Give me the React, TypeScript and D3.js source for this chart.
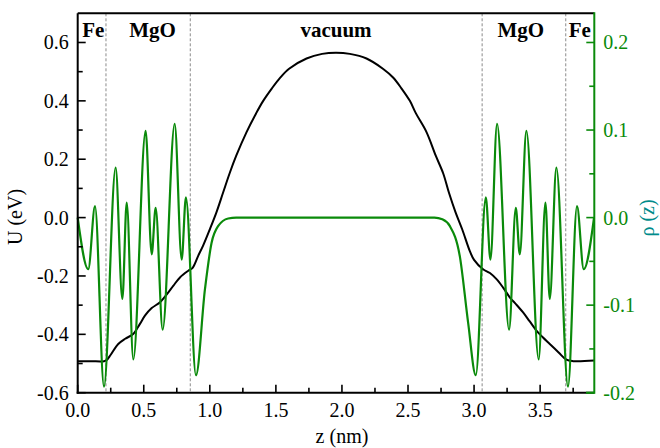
import React from "react";
import * as d3 from "d3";

// ---- data ----
const uZ = [0.0, 0.1, 0.2, 0.22, 0.25, 0.307, 0.36, 0.42, 0.47, 0.509, 0.56, 0.623, 0.68, 0.723, 0.774, 0.837, 0.87, 0.912, 0.95, 1.0, 1.05, 1.1, 1.15, 1.2, 1.278, 1.35, 1.404, 1.47, 1.53, 1.6, 1.732, 1.85, 1.955, 2.06, 2.186, 2.31, 2.387, 2.45, 2.514, 2.56, 2.64, 2.71, 2.766, 2.81, 2.86, 2.91, 2.968, 3.0, 3.068, 3.12, 3.17, 3.22, 3.27, 3.32, 3.371, 3.42, 3.472, 3.52, 3.573, 3.64, 3.699, 3.75, 3.91];
const uVal = [-0.492, -0.492, -0.492, -0.488, -0.47, -0.433, -0.415, -0.399, -0.365, -0.336, -0.31, -0.29, -0.26, -0.234, -0.205, -0.182, -0.172, -0.131, -0.095, -0.04, 0.018, 0.085, 0.152, 0.212, 0.293, 0.357, 0.4, 0.443, 0.478, 0.51, 0.545, 0.561, 0.565, 0.561, 0.545, 0.51, 0.48, 0.443, 0.4, 0.357, 0.293, 0.212, 0.152, 0.085, 0.018, -0.04, -0.115, -0.145, -0.177, -0.19, -0.211, -0.24, -0.273, -0.298, -0.325, -0.355, -0.387, -0.41, -0.433, -0.462, -0.487, -0.492, -0.49];

const rhoZ = [0.0, 0.08, 0.131, 0.199, 0.287, 0.338, 0.371, 0.421, 0.514, 0.56, 0.59, 0.643, 0.734, 0.787, 0.819, 0.895, 0.963, 1.013, 1.064, 1.139, 1.2, 2.7, 2.76, 2.816, 2.892, 2.955, 3.013, 3.089, 3.124, 3.174, 3.265, 3.316, 3.346, 3.396, 3.489, 3.54, 3.573, 3.623, 3.711, 3.779, 3.83, 3.908];
const rhoVal = [0.0, -0.059, 0.013, -0.193, 0.057, -0.093, 0.017, -0.162, 0.099, -0.042, 0.011, -0.128, 0.107, -0.048, 0.023, -0.18, -0.082, -0.029, -0.0095, -0.001, 0.0, 0.0, -0.002, -0.0095, -0.044, -0.12, -0.18, 0.023, -0.048, 0.107, -0.128, 0.011, -0.042, 0.099, -0.162, 0.017, -0.093, 0.057, -0.193, 0.013, -0.059, 0.0];

const boundaries = [0.214, 0.852, 3.061, 3.694];
const regionLabels = ["Fe", "MgO", "vacuum", "MgO", "Fe"];
const regionZ = [0.118, 0.566, 1.955, 3.353, 3.8];

const xTicks = [0.0, 0.5, 1.0, 1.5, 2.0, 2.5, 3.0, 3.5];
const xMinor = [0.25, 0.75, 1.25, 1.75, 2.25, 2.75, 3.25, 3.75];
const yLTicks = [-0.6, -0.4, -0.2, 0.0, 0.2, 0.4, 0.6];
const yLMinor = [-0.5, -0.3, -0.1, 0.1, 0.3, 0.5];
const yRTicks = [-0.2, -0.1, 0.0, 0.1, 0.2];
const yRMinor = [-0.15, -0.05, 0.05, 0.15];

const W = 660, H = 448;
const L = 77.7, R = 594.3, T = 13.3, B = 392.7;
const GREEN = "#0a8a0a";
const FONT = "'Liberation Serif', 'Times New Roman', serif";

export default function App() {
  const x = d3.scaleLinear().domain([0, 3.91]).range([L, R]);
  const yL = d3.scaleLinear().domain([-0.6, 0.7]).range([B, T]);
  const yR = d3.scaleLinear().domain([-0.2, 0.7 / 3]).range([B, T]);

  const uLine = d3.line<number>().x((_, i) => x(uZ[i])).y((_, i) => yL(uVal[i])).curve(d3.curveCatmullRom.alpha(0.5));
  const rLine = d3.line<number>().x((_, i) => x(rhoZ[i])).y((_, i) => yR(rhoVal[i])).curve(d3.curveMonotoneX);

  const fmt = (v: number) => (v < 0 ? "-" : "") + Math.abs(v).toFixed(1);

  return (
    <svg width={W} height={H} style={{ position: "absolute", left: 0, top: 0, background: "#fff" }} fontFamily={FONT}>
      {/* boundaries */}
      {boundaries.map((b, i) => (
        <line key={"b" + i} x1={x(b)} x2={x(b)} y1={T} y2={B} stroke="#8a8a8a" strokeWidth={1} strokeDasharray="3,2" />
      ))}
      {/* curves */}
      <path d={uLine(uZ) || ""} fill="none" stroke="#000" strokeWidth={2} />
      <path d={rLine(rhoZ) || ""} fill="none" stroke={GREEN} strokeWidth={2.2} />

      {/* frame */}
      <line x1={L} x2={R} y1={T} y2={T} stroke="#000" strokeWidth={2} />
      <line x1={L} x2={L} y1={T} y2={B + 1} stroke="#000" strokeWidth={2} />
      <line x1={L - 1} x2={R} y1={B} y2={B} stroke="#000" strokeWidth={2} />
      <line x1={586} x2={R} y1={B} y2={B} stroke={GREEN} strokeWidth={2} />
      <line x1={R} x2={R} y1={T - 1} y2={B + 1} stroke={GREEN} strokeWidth={2} />

      {/* x ticks */}
      {xTicks.map((t) => (
        <g key={"xt" + t}>
          <line x1={x(t)} x2={x(t)} y1={B} y2={B - 8} stroke="#000" strokeWidth={1.6} />
          <text x={x(t)} y={B + 24} fontSize={20} textAnchor="middle" fill="#000">{t.toFixed(1)}</text>
        </g>
      ))}
      {xMinor.map((t) => (
        <line key={"xm" + t} x1={x(t)} x2={x(t)} y1={B} y2={B - 5} stroke="#000" strokeWidth={1.6} />
      ))}

      {/* left ticks */}
      {yLTicks.map((t) => (
        <g key={"yl" + t}>
          <line x1={L} x2={L + 8} y1={yL(t)} y2={yL(t)} stroke="#000" strokeWidth={1.6} />
          <text x={L - 9} y={yL(t)} dy="0.35em" fontSize={20} textAnchor="end" fill="#000">{fmt(t)}</text>
        </g>
      ))}
      {yLMinor.map((t) => (
        <line key={"ylm" + t} x1={L} x2={L + 5} y1={yL(t)} y2={yL(t)} stroke="#000" strokeWidth={1.6} />
      ))}

      {/* right ticks */}
      {yRTicks.map((t) => (
        <g key={"yr" + t}>
          <line x1={R} x2={R - 8} y1={yR(t)} y2={yR(t)} stroke={GREEN} strokeWidth={1.6} />
          <text x={R + 9} y={yR(t)} dy="0.35em" fontSize={20} textAnchor="start" fill={GREEN}>{fmt(t)}</text>
        </g>
      ))}
      {yRMinor.map((t) => (
        <line key={"yrm" + t} x1={R} x2={R - 5} y1={yR(t)} y2={yR(t)} stroke={GREEN} strokeWidth={1.6} />
      ))}

      {/* region labels */}
      {regionLabels.map((lab, i) => (
        <text key={"r" + i} x={x(regionZ[i])} y={37} fontSize={21} fontWeight="bold" textAnchor="middle" fill="#000">{lab}</text>
      ))}

      {/* axis titles */}
      <text x={(L + R) / 2 + 6} y={443} fontSize={20} textAnchor="middle" fill="#000">z (nm)</text>
      <text transform="translate(22,217) rotate(-90)" fontSize={20} textAnchor="middle" fill="#000">U (eV)</text>
      <text transform="translate(654,218) rotate(-90)" fontSize={20} textAnchor="middle" fill="#008b8b">ρ (z)</text>
    </svg>
  );
}
